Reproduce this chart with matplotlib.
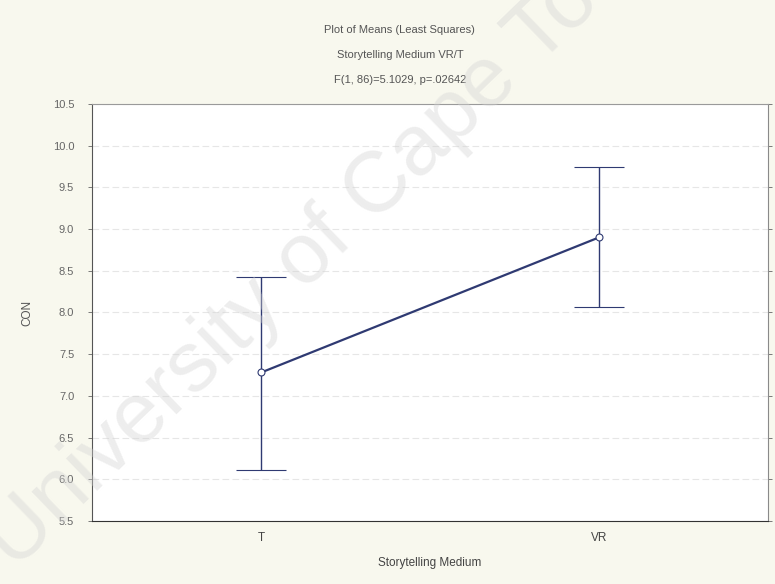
import matplotlib
matplotlib.use('Agg')
import matplotlib.pyplot as plt

# data
groups = ['T', 'VR']
means = [7.28, 8.90]
ci_low = [6.11, 8.06]
ci_high = [8.43, 9.74]
y_ticks = [5.5, 6.0, 6.5, 7.0, 7.5, 8.0, 8.5, 9.0, 9.5, 10.0, 10.5]

plt.rcParams['font.family'] = ['Liberation Sans', 'DejaVu Sans']
BG = '#f8f8ee'
NAVY = '#2f3a72'

fig = plt.figure(figsize=(7.75, 5.84), dpi=100, facecolor=BG)
ax = fig.add_axes([0.119, 0.108, 0.872, 0.714])
ax.set_facecolor('white')

x = list(range(len(groups)))
yerr = [[m - lo for m, lo in zip(means, ci_low)],
        [hi - m for m, hi in zip(means, ci_high)]]
ax.errorbar(x, means, yerr=yerr, color=NAVY, linewidth=1.6,
            elinewidth=1.0, capsize=18, capthick=1.0, marker='o', markersize=5,
            markerfacecolor='white', markeredgecolor=NAVY, markeredgewidth=0.8, zorder=3)

ax.set_xlim(-0.5, 1.5)
ax.set_ylim(5.5, 10.5)
ax.set_yticks(y_ticks)
ax.set_yticklabels([f'{v:.1f}' for v in y_ticks], fontsize=8, color='#666666')
ax.set_xticks(x)
ax.set_xticklabels(groups, fontsize=8.5, color='#444444')
ax.tick_params(axis='y', direction='out', length=3, width=0.6, color='#666666', pad=10,
               right=True)
ax.tick_params(axis='x', length=0, pad=8)
ax.grid(axis='y', color='#e6e6e6', linestyle=(0, (6, 3)), linewidth=0.8, zorder=0)

ax.spines['top'].set_color('#9a9a9a')
ax.spines['top'].set_linewidth(0.8)
ax.spines['right'].set_color('#8a8a8a')
ax.spines['right'].set_linewidth(0.8)
ax.spines['left'].set_color('#555555')
ax.spines['left'].set_linewidth(0.8)
ax.spines['bottom'].set_color('#333333')
ax.spines['bottom'].set_linewidth(0.8)

ax.set_ylabel('CON', fontsize=8.5, color='#555555', labelpad=14)
ax.set_xlabel('Storytelling Medium', fontsize=8.5, color='#444444', labelpad=9)

fig.text(0.516, 1 - 30 / 584, 'Plot of Means (Least Squares)', ha='center', va='center',
         fontsize=8, color='#555555')
fig.text(0.516, 1 - 55 / 584, 'Storytelling Medium VR/T', ha='center', va='center',
         fontsize=8, color='#555555')
fig.text(0.516, 1 - 80 / 584, 'F(1, 86)=5.1029, p=.02642', ha='center', va='center',
         fontsize=8, color='#555555')

# watermark
fig.text(0.43, 0.60, 'University of Cape Town', ha='center', va='center', rotation=44,
         fontsize=62, color='#d4d4d4', alpha=0.4, zorder=10)

fig.savefig('out.png', dpi=100, facecolor=BG)
